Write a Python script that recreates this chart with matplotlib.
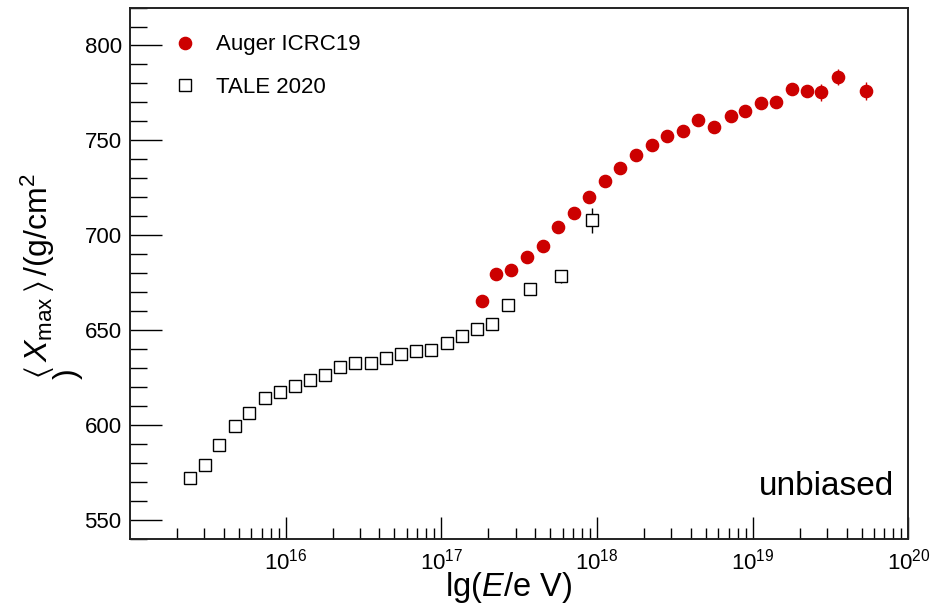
import numpy as np
import matplotlib
matplotlib.use("Agg")
import matplotlib.pyplot as plt
from matplotlib.ticker import LogLocator, LogFormatterMathtext, MultipleLocator, FixedLocator

plt.rcParams['font.family'] = ['Liberation Sans', 'DejaVu Sans']
plt.rcParams['mathtext.fontset'] = 'custom'
plt.rcParams['mathtext.rm'] = 'Liberation Sans'
plt.rcParams['mathtext.it'] = 'Liberation Sans:italic'
plt.rcParams['mathtext.bf'] = 'Liberation Sans:bold'
plt.rcParams['mathtext.fallback'] = 'stixsans'

# Auger ICRC 2019 <Xmax> (lg E bin centres, g/cm^2)
auger_lgE = [17.26, 17.35, 17.45, 17.55, 17.65, 17.75, 17.85, 17.95, 18.05, 18.15,
             18.25, 18.35, 18.45, 18.55, 18.65, 18.75, 18.86, 18.95, 19.05, 19.15,
             19.25, 19.35, 19.44, 19.55, 19.73]
auger_xmax = [665.2, 679.8, 681.9, 688.5, 694.2, 704.6, 712.0, 720.1, 728.4, 735.7,
              742.5, 747.8, 752.4, 755.0, 760.6, 757.0, 763.0, 765.7, 769.8, 770.4,
              776.9, 776.0, 775.3, 783.4, 776.0]
auger_err = [1.5, 1.5, 1.5, 1.5, 1.5, 1.5, 1.5, 1.5, 1.5, 1.5,
             1.5, 1.6, 1.7, 1.8, 1.9, 2.0, 2.1, 2.3, 2.5, 2.7,
             3.2, 3.0, 4.6, 4.0, 4.7]

# TALE 2020 <Xmax>
tale_lgE = [15.385, 15.481, 15.573, 15.674, 15.767, 15.867, 15.964, 16.060, 16.157,
            16.253, 16.352, 16.445, 16.547, 16.643, 16.740, 16.838, 16.934, 17.035,
            17.132, 17.228, 17.327, 17.425, 17.571, 17.768, 17.965]
tale_xmax = [571.9, 579.2, 589.7, 599.5, 606.4, 614.4, 617.3, 620.8, 624.0,
             626.3, 630.5, 632.6, 632.6, 635.3, 637.7, 639.2, 639.8, 643.5,
             647.2, 650.8, 653.4, 663.3, 671.9, 678.4, 707.9]
tale_err = [1.0, 1.0, 1.0, 1.0, 1.0, 1.0, 1.0, 1.0, 1.0,
            1.0, 1.0, 1.0, 1.0, 1.0, 1.0, 1.0, 1.0, 1.2,
            1.4, 1.6, 1.8, 2.0, 2.5, 3.5, 6.7]

x_major = [1e16, 1e17, 1e18, 1e19, 1e20]

fig = plt.figure(figsize=(9.31, 6.07), dpi=100)
ax = fig.add_axes([0.1396, 0.112, 0.8362, 0.8756])

red = '#cc0000'
ax.errorbar(10**np.array(auger_lgE), auger_xmax, yerr=auger_err, fmt='none',
            ecolor=red, elinewidth=1, capsize=0, zorder=3)
ax.plot(10**np.array(auger_lgE), auger_xmax, 'o', color=red, ms=8.8, mec=red,
        label='Auger ICRC19', zorder=4)
ax.errorbar(10**np.array(tale_lgE), tale_xmax, yerr=tale_err, fmt='none',
            ecolor='black', elinewidth=1, capsize=0, zorder=2)
ax.plot(10**np.array(tale_lgE), tale_xmax, 's', mfc='white', mec='black',
        mew=1.0, ms=8.0, label='TALE 2020', zorder=3)

ax.set_xscale('log')
ax.set_xlim(1e15, 1e20)
ax.set_ylim(540, 820)

ax.xaxis.set_major_locator(FixedLocator(x_major))
ax.xaxis.set_minor_locator(LogLocator(base=10, subs=np.arange(2, 10), numticks=20))
ax.xaxis.set_major_formatter(LogFormatterMathtext())
ax.yaxis.set_major_locator(MultipleLocator(50))
ax.yaxis.set_minor_locator(MultipleLocator(10))

ax.tick_params(axis='y', which='major', direction='in', length=23, width=1,
               labelsize=16, pad=6, right=False)
ax.tick_params(axis='y', which='minor', direction='in', length=12, width=1, right=False)
ax.tick_params(axis='x', which='major', direction='in', length=16, width=1,
               labelsize=16, pad=7, top=False)
ax.tick_params(axis='x', which='minor', direction='in', length=8, width=1, top=False)

for s in ax.spines.values():
    s.set_linewidth(1.4)
    s.set_color('#222222')

fig.text(0.546, 0.003, r'lg($E$/e V)', fontsize=23.5, ha='center', va='bottom')
fig.text(0.020, 0.545,
         '$\\langle\\,X_{\\mathrm{max}}\\,\\rangle\\,$/(g/cm$^2$\n)', fontsize=23,
         rotation=90, ha='left', va='center', multialignment='left', linespacing=0.8)

ax.text(0.982, 0.083, 'unbiased', transform=ax.transAxes, fontsize=24,
        ha='right', va='baseline')

ax.legend(loc='upper left', bbox_to_anchor=(0.045, 0.966), frameon=False,
          fontsize=16, handletextpad=0.9, labelspacing=0.95,
          handlelength=1.0, borderaxespad=0)

fig.savefig('out.png', dpi=100)
